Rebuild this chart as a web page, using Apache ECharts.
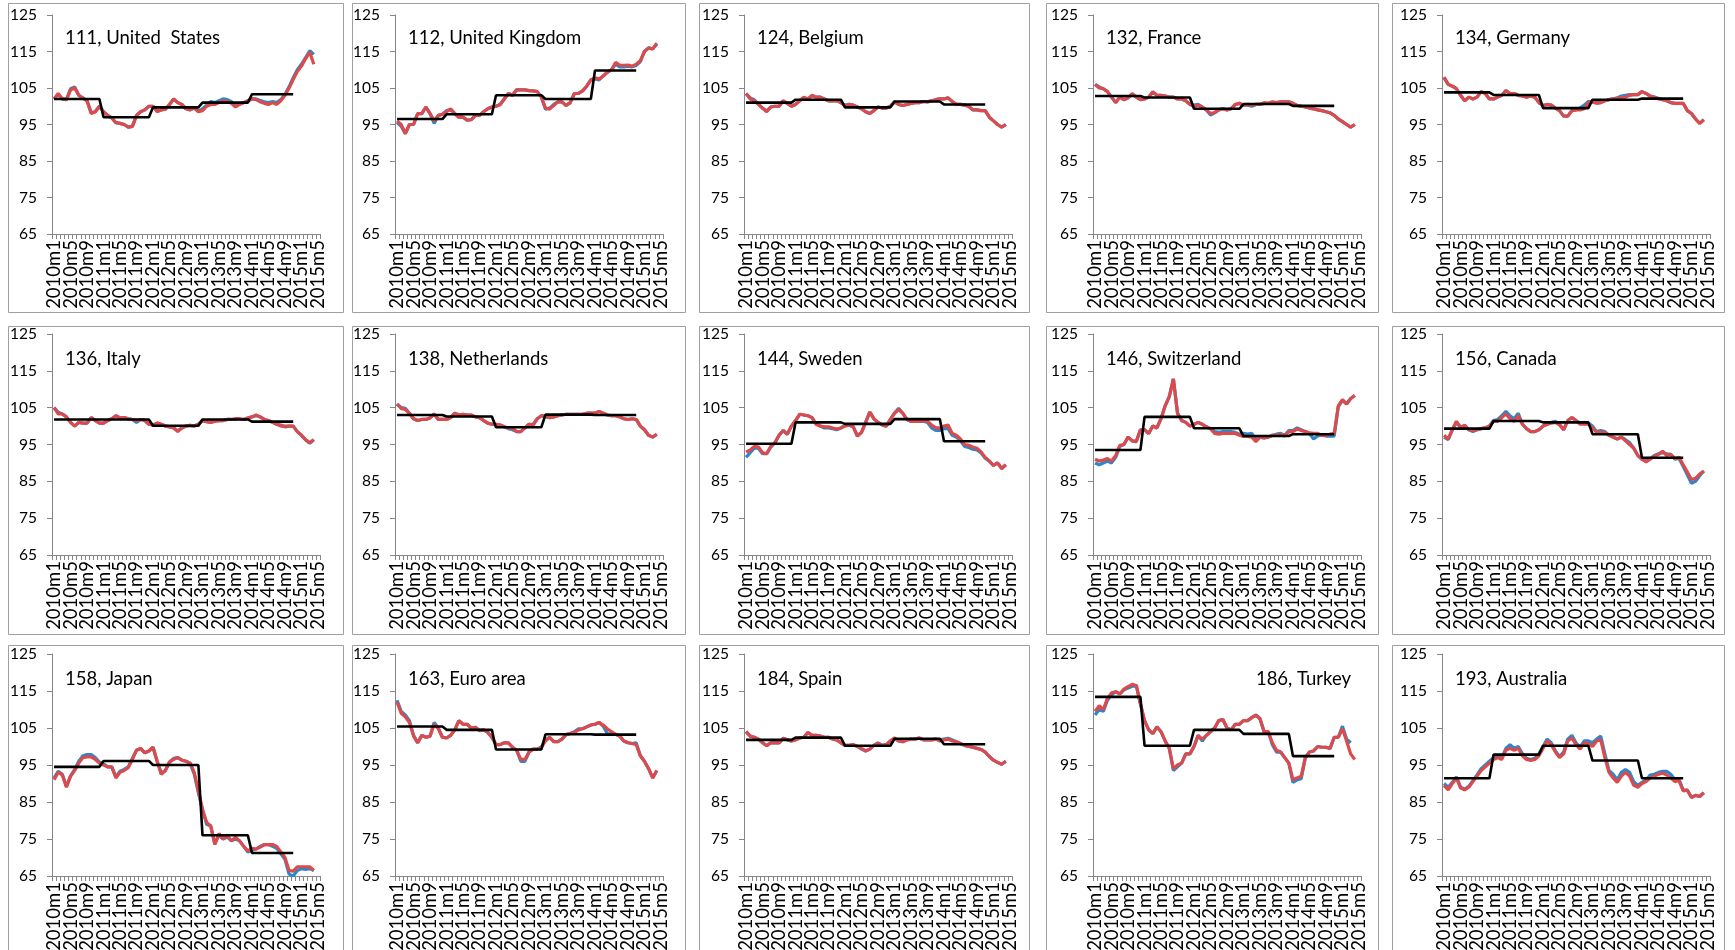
<!DOCTYPE html>
<html><head><meta charset="utf-8">
<script src="https://cdn.jsdelivr.net/npm/echarts/dist/echarts.min.js"></script>
<style>html,body{margin:0;padding:0;background:#fff}#c{width:1735px;height:950px}</style>
</head><body><div id="c"></div>
<script>
const months = ["2010m1","2010m2","2010m3","2010m4","2010m5","2010m6","2010m7","2010m8","2010m9","2010m10","2010m11","2010m12",
"2011m1","2011m2","2011m3","2011m4","2011m5","2011m6","2011m7","2011m8","2011m9","2011m10","2011m11","2011m12",
"2012m1","2012m2","2012m3","2012m4","2012m5","2012m6","2012m7","2012m8","2012m9","2012m10","2012m11","2012m12",
"2013m1","2013m2","2013m3","2013m4","2013m5","2013m6","2013m7","2013m8","2013m9","2013m10","2013m11","2013m12",
"2014m1","2014m2","2014m3","2014m4","2014m5","2014m6","2014m7","2014m8","2014m9","2014m10","2014m11","2014m12",
"2015m1","2015m2","2015m3","2015m4","2015m5"];
const labelEvery = 4;
const yTicks = [65,75,85,95,105,115,125];

const usRed = [102,103.5,102,101.8,104.5,105,103,102.2,101.5,98, 98.5,100,98.5,97.5,96.8,95.5,95.3,95,94.3,94.5, 97.5,98.5,99,100,100,98.5,99,99.2,100.5,102, 101,100.5,99.3,99,99.5,98.5,98.8,100,100.5,100.5, 101,101.5,101.3,100.8,99.8,100.5,101,101.5,102,101.8, 101.2,100.8,100.5,101,100.5,101.5,103,105,107.3,109.5, 111,113,114.8,111.5];
const usBlue = [102,103.3,102,101.8,104.8,105.3,103,102.3,101.5,98.3, 98.5,100,98.5,97.5,96.8,95.5,95.3,95,94.3,94.5, 97.5,98.5,99,100,100,98.7,99,99.2,100.5,102, 101,100.5,99.3,99,99.5,98.7,99.3,100.3,101.3,101, 101.5,102,101.8,101.3,100,100.7,101,101.5,102,102, 101.6,101.2,101,101.3,101,101.8,103.3,105.3,107.8,110, 111.5,113.3,115.2,114.2];
const usBlack = [102,102,102,102,102,102,102,102,102,102,102,102, 97,97,97,97,97,97,97,97,97,97,97,97, 99.7,99.7,99.7,99.7,99.7,99.7,99.7,99.7,99.7,99.7,99.7,99.7, 101,101,101,101,101,101,101,101,101,101,101,101, 103.3,103.3,103.3,103.3,103.3,103.3,103.3,103.3,103.3,103.3,103.3];

const ukRed = [96,95,92.5,95,95,98,98,99.8,98,96, 97.5,97.8,98.5,99.3,98,97,97,96.2,96.3,97.5, 97.5,98.5,99.3,99.8,100,100.5,102,103.5,103,104.5, 104.5,104.5,104.3,104.2,104,102.5,99.5,99.2,100.2,101.2, 101.2,100.2,101,103.5,103.5,104.2,105.5,107.2,107.8,107.5, 108.3,109.3,110,112,111.3,111.2,111.3,111,111.5,112.5, 115,116,115.7,117.3];
const ukBlue = [95.5,94.5,92.5,95,95,98,98,99.8,98,95.3, 97.5,97.8,98.8,99,98,97,97,96.2,96.3,97.5, 97.5,98.5,99.3,99.8,100,100.5,102,103.5,103,104.5, 104.5,104.5,104.3,104.2,104,102.5,99.2,99.5,100.5,101.2, 101.2,100.2,101,103.5,103.5,104.2,105.5,107.2,107.5,107.2, 108.3,109.3,110,111.5,110.8,110.8,111,110.8,111.2,112.2, 115,116,115.7,117];
const ukBlack = [96.5,96.5,96.5,96.5,96.5,96.5,96.5,96.5,96.5,96.5,96.5,96.5, 97.8,97.8,97.8,97.8,97.8,97.8,97.8,97.8,97.8,97.8,97.8,97.8, 103,103,103,103,103,103,103,103,103,103,103,103, 102,102,102,102,102,102,102,102,102,102,102,102, 109.8,109.8,109.8,109.8,109.8,109.8,109.8,109.8,109.8,109.8,109.8];

const beRed = [103.5,102,101.5,100.5,99.5,98.5,99.8,100,100,101.5, 100.8,100,100.5,101.5,102.5,102,103,102.5,102.5,102, 101.5,101.5,101.5,101,100,100.5,100.3,99.8,99.3,98.5, 98,98.8,99.8,99.5,99.5,100,101.2,100.5,100.2,100.5, 100.8,101,101,101.3,101.2,101.5,101.8,102,102,102.3, 101.3,100.5,100.5,100.3,100,99,99,98.8,98.8,97, 96,95,94.3,95];
const beBlue = [103.5,102.3,101.8,100.5,99.5,98.7,99.8,100,100,101.5, 100.8,100,100.5,101.5,102.3,102,102.8,102.5,102.5,102, 101.5,101.5,101.5,101,100.3,100.5,100.3,99.8,99.3,98.5, 98,98.8,99.8,99.5,99.5,100,101.2,100.5,100.2,100.5, 100.8,101,101,101.3,101.2,101.5,101.8,102,102,102.3, 101.3,100.5,100.5,100.3,100,99,99,98.8,98.8,97, 96,95,94.3,95];
const beBlack = [101,101,101,101,101,101,101,101,101,101,101,101, 101.8,101.8,101.8,101.8,101.8,101.8,101.8,101.8,101.8,101.8,101.8,101.8, 99.7,99.7,99.7,99.7,99.7,99.7,99.7,99.7,99.7,99.7,99.7,99.7, 101.3,101.3,101.3,101.3,101.3,101.3,101.3,101.3,101.3,101.3,101.3,101.3, 100.5,100.5,100.5,100.5,100.5,100.5,100.5,100.5,100.5,100.5,100.5];

const frRed = [106,105,104.8,104,102.5,101,102.5,101.8,102.3,103.5, 102.5,101.8,102,102.5,104,103,103,102.8,102.5,102.5, 102,102,101.5,100.5,100,100.3,99.8,99,98,98.3, 99,99.3,99,99.3,100.5,100.8,100.3,100.5,100.3,100.5, 100.5,101,100.8,101.2,101,101.2,101.2,101.2,100.8,100.2, 100,99.8,99.5,99.3,99,98.8,98.5,98.2,97.5,96.5, 95.8,95,94.3,95];
const frBlue = [106,105.3,104.8,104,102.5,101,102.5,101.8,102.3,103.3, 102.5,101.8,102,102.5,103.8,103,103,102.8,102.5,102.5, 102,102,101.5,100.5,100.3,100.5,99.8,99,97.6,98.2, 99,99.3,99,99.3,100.5,100.8,100.3,100.3,100,100.5, 100.5,100.8,100.8,101,101,101.2,101.2,101.2,100.8,100.2, 100,99.8,99.5,99.3,99,98.8,98.5,98.2,97.5,96.5, 95.8,95,94.3,95];
const frBlack = [102.8,102.8,102.8,102.8,102.8,102.8,102.8,102.8,102.8,102.8,102.8,102.8, 102.4,102.4,102.4,102.4,102.4,102.4,102.4,102.4,102.4,102.4,102.4,102.4, 99.3,99.3,99.3,99.3,99.3,99.3,99.3,99.3,99.3,99.3,99.3,99.3, 100.6,100.6,100.6,100.6,100.6,100.6,100.6,100.6,100.6,100.6,100.6,100.6, 100.1,100.1,100.1,100.1,100.1,100.1,100.1,100.1,100.1,100.1,100.1];

const deRed = [108,106,105.5,104.8,103,101.5,102.5,102,102.5,104, 103.5,102,102,102.5,103,104.3,103.5,103.5,103,102.8, 102.5,102.8,102.5,101,100.2,100.5,100.3,99.5,98.8,97.3, 97.3,98.8,99,99,99.3,101,101.2,100.8,101,101.5, 101.8,102,102.2,102.3,102.5,103,103.2,103.2,104,103.5, 102.8,102.5,102,101.8,101.5,101,100.8,100.8,100.8,98.8, 98,96.5,95.3,96.3];
const deBlue = [107.8,106,105.5,104.8,103,101.5,102.5,102,102.5,104, 103.5,102,102,102.5,103,104.3,103.5,103.5,103,102.8, 102.5,102.8,102.5,101,100.2,100.5,100.3,99.5,98.8,97.3, 97.3,98.8,99,99.5,100.3,101.3,101.2,101,101,101.5, 101.8,102,102.3,102.8,103,103.2,103.2,103.2,104,103.5, 102.8,102.5,102.2,101.8,101.5,101,100.8,100.8,100.8,98.8, 98,96.5,95.3,96.3];
const deBlack = [103.8,103.8,103.8,103.8,103.8,103.8,103.8,103.8,103.8,103.8,103.8,103.8, 103.1,103.1,103.1,103.1,103.1,103.1,103.1,103.1,103.1,103.1,103.1,103.1, 99.5,99.5,99.5,99.5,99.5,99.5,99.5,99.5,99.5,99.5,99.5,99.5, 101.8,101.8,101.8,101.8,101.8,101.8,101.8,101.8,101.8,101.8,101.8,101.8, 102.1,102.1,102.1,102.1,102.1,102.1,102.1,102.1,102.1,102.1,102.1];

const itRed = [105,103.3,103.3,102.5,101,100,101,100.8,100.8,102.3, 101.5,100.8,100.8,101.5,102,102.8,102.2,102.3,102,101.8, 101.5,101.8,101.5,100.5,100.3,100.8,100.5,100,99.8,99.5, 98.5,99.5,100,100.2,100,100.5,101.5,101.2,101,101.3, 101.5,101.5,101.8,101.8,102,102,101.8,102.2,102.5,103, 102.5,101.8,101.5,101,100.5,100,100,100,100,98.5, 97.5,96.3,95.5,96.3];
const itBlue = [105,103.8,103.3,102.5,101,100,101,100.8,100.8,102.3, 101.5,100.8,100.8,101.5,102,102.8,102.2,102.3,102,101.8, 101,101.8,101.5,100.5,100.3,100.8,100.5,100,99.8,99.5, 98.7,99.5,100,100.2,100,100.5,101.5,101.2,101,101.3, 101.5,101.5,101.8,101.8,102,102,101.8,102.2,102.5,102.8, 102.5,101.8,101.5,101,100.5,100.3,99.8,100,100,98.5, 97.5,96.3,95.3,96.3];
const itBlack = [101.8,101.8,101.8,101.8,101.8,101.8,101.8,101.8,101.8,101.8,101.8,101.8, 101.8,101.8,101.8,101.8,101.8,101.8,101.8,101.8,101.8,101.8,101.8,101.8, 100.1,100.1,100.1,100.1,100.1,100.1,100.1,100.1,100.1,100.1,100.1,100.1, 101.8,101.8,101.8,101.8,101.8,101.8,101.8,101.8,101.8,101.8,101.8,101.8, 101.2,101.2,101.2,101.2,101.2,101.2,101.2,101.2,101.2,101.2,101.2];

const nlRed = [106,104.8,104.5,103.5,102,101.5,101.8,101.8,102.2,103.3, 101.8,101.8,101.8,102.3,103.5,103,103.2,103,103,102.5, 102.3,101.5,100.8,100.5,100.5,100.3,99.8,99.5,99.5,98.5, 98.5,99.5,100.5,100.2,102,102.8,102.8,102.3,102.5,102.8, 103,103.2,103.2,103.2,103.2,103.2,103.5,103.5,103.5,104, 103.5,103,102.8,102.8,102.5,102,101.8,102,101.8,100, 99,97.5,97,97.8];
const nlBlue = [106,105,104.8,103.5,102,101.5,101.8,101.8,102.2,103.3, 101.8,101.8,101.8,102.3,103.5,103,103.2,103,103,102.5, 102.3,101.5,100.8,100.5,100.5,100.3,99.8,99.3,99,98.5, 98.5,99.5,100.5,100.5,102,102.8,102.5,102.3,102.5,102.8, 103,103.2,103.2,103.2,103.2,103.2,103.5,103.5,103.5,104, 103.5,103,102.8,102.8,102.5,102,101.8,102,101.8,100, 99,97.5,97,97.8];
const nlBlack = [103,103,103,103,103,103,103,103,103,103,103,103, 102.6,102.6,102.6,102.6,102.6,102.6,102.6,102.6,102.6,102.6,102.6,102.6, 99.7,99.7,99.7,99.7,99.7,99.7,99.7,99.7,99.7,99.7,99.7,99.7, 103.1,103.1,103.1,103.1,103.1,103.1,103.1,103.1,103.1,103.1,103.1,103.1, 103,103,103,103,103,103,103,103,103,103,103];

const seRed = [93,93.5,94.5,94.3,92.8,92.5,94.5,95.5,97.5,98.8, 97.8,100,101.5,103.2,103,102.8,102.3,100.5,100,99.8, 99.8,99.5,99.2,99.5,100,100.3,99.8,97.3,98.3,101, 103.8,102,101,100.3,100,101.8,103.5,104.5,103.5,101.8, 101.3,101.3,101.3,101.5,101.3,100.3,99.5,99.5,100,100.3, 98,97.5,96.5,95,94.8,94.3,94,93,91.5,90.5, 89.3,90,88.5,89.5];
const seBlue = [91.5,92.8,94,94,92.5,92.5,94.3,95.5,97.5,98.8, 97.8,100,101.5,103.2,103,102.8,102.3,100.5,100,99.5, 99.5,99.3,99,99.5,100.2,100.3,99.8,97.3,98.3,101, 103.8,102,101,100.3,100,101.8,103.5,104.8,103.5,101.8, 101.3,101.3,101.3,101.3,101,99.5,98.8,98.8,99.3,99.3, 97.5,97,96,94.5,94.2,93.7,93.5,92.7,91.3,90.5, 89.3,90,88.5,89.5];
const seBlack = [95.2,95.2,95.2,95.2,95.2,95.2,95.2,95.2,95.2,95.2,95.2,95.2, 101,101,101,101,101,101,101,101,101,101,101,101, 100.6,100.6,100.6,100.6,100.6,100.6,100.6,100.6,100.6,100.6,100.6,100.6, 101.9,101.9,101.9,101.9,101.9,101.9,101.9,101.9,101.9,101.9,101.9,101.9, 95.9,95.9,95.9,95.9,95.9,95.9,95.9,95.9,95.9,95.9,95.9];

const chRed = [91,90.5,90.8,91.2,90.5,92,94.8,95,97,96, 95.8,99,99,98,100,99.5,102,105.5,108,112.8, 103.5,101.5,101,100,100.5,101,100.5,99.8,99.3,98, 97.8,98,98,98,98,97.5,97.2,97.2,97,95.8, 97,96.8,97,97.5,97.5,97.8,97.3,98.5,98.5,99.2, 98.8,98.5,98.2,98,98,97.5,97.5,97.8,98,105.5, 107.2,106,107.5,108.3];
const chBlue = [90,89.5,90,90.5,90,91.5,94.5,95,97,96, 95.8,99,99,98,100,99.5,102,105.5,108,112.8, 103.5,101.5,101,100,100.5,101,100.5,99.8,99.3,98.5, 98.3,98.5,98.5,98.5,98.3,97.8,98,97.8,98,96.3, 97,96.8,97,97.5,97.8,98,97.5,98.8,98.8,99.5, 99,98.5,98,96.5,97.3,97.5,97.3,97.3,97.3,105.3, 107,106,107.5,108.3];
const chBlack = [93.5,93.5,93.5,93.5,93.5,93.5,93.5,93.5,93.5,93.5,93.5,93.5, 102.5,102.5,102.5,102.5,102.5,102.5,102.5,102.5,102.5,102.5,102.5,102.5, 99.4,99.4,99.4,99.4,99.4,99.4,99.4,99.4,99.4,99.4,99.4,99.4, 97.3,97.3,97.3,97.3,97.3,97.3,97.3,97.3,97.3,97.3,97.3,97.3, 97.8,97.8,97.8,97.8,97.8,97.8,97.8,97.8,97.8,97.8,97.8];

const caRed = [97.5,96.5,99,101.3,99.5,100.3,99,98.8,99,99.3, 99.5,100,101.3,101.3,102.3,103.3,102,101.3,102.8,100.5, 99.3,98.5,98.5,99,100,100.5,100.8,101,100.3,99, 101.5,102.3,101.5,100.5,100.5,100.5,99.5,98.3,98.3,98.3, 97.5,97,96.5,97,96,95,94,92,91,90.3, 91,91.8,92.3,93.2,92,92.3,91.2,91.5,89.5,87.5, 85.5,85.8,87,87.8];
const caBlue = [97,96.3,99,101,99.8,100,99,98.5,99,99.3, 99.5,100,101.5,101.8,102.8,104,102.8,102,103.5,100.5, 99.3,98.5,98.5,99,100,100.5,101,101.3,100.5,99, 101.5,102.3,101.5,100.8,101,100.8,100,98.5,98.8,98.5, 97.5,97,96.5,97,96.3,95.5,94,92,91,90.5, 91.2,92,92.5,92.8,92.5,92.3,91,91.2,89,86.8, 84.5,85,86.5,87.8];
const caBlack = [99.3,99.3,99.3,99.3,99.3,99.3,99.3,99.3,99.3,99.3,99.3,99.3, 101.4,101.4,101.4,101.4,101.4,101.4,101.4,101.4,101.4,101.4,101.4,101.4, 101,101,101,101,101,101,101,101,101,101,101,101, 97.8,97.8,97.8,97.8,97.8,97.8,97.8,97.8,97.8,97.8,97.8,97.8, 91.4,91.4,91.4,91.4,91.4,91.4,91.4,91.4,91.4,91.4,91.4];

const jpRed = [91,93,92.3,89,92,93.5,95.5,97,97.2,97.2, 96.5,95.5,95,94.5,94.5,91.5,93,93.5,94.3,96.5, 99,99.5,98.3,98.8,99.8,96,92.5,93.5,95.8,96.5, 97,96.3,96,95.5,93,88,83,79.5,78.5,73.5, 76.5,75,76,74.5,75.5,74.5,73,71.8,72.5,72.3, 72.8,73.5,73.5,73.5,73,71.5,70,66.5,66.3,67.5, 67.5,67.5,67.5,66.5];
const jpBlue = [91.5,93.3,92.5,89.2,92,93.8,96,97.5,97.8,97.8, 97,95.8,95.3,94.5,94.5,91.8,93.3,93.8,94.5,96.8, 99,99.5,98.3,98.8,99.8,96,92.8,93.5,95.8,96.8, 97,96.3,96,95.5,92.5,87.5,83,79,78.5,73.8, 76,75,75.5,74.5,75,74.5,73,71.5,72,72.3, 73,73.5,73.5,73,72.5,71,69.5,65.5,65,66.5, 67,66.8,67,66.5];
const jpBlack = [94.5,94.5,94.5,94.5,94.5,94.5,94.5,94.5,94.5,94.5,94.5,94.5, 96.1,96.1,96.1,96.1,96.1,96.1,96.1,96.1,96.1,96.1,96.1,96.1, 95,95,95,95,95,95,95,95,95,95,95,95, 76,76,76,76,76,76,76,76,76,76,76,76, 71.2,71.2,71.2,71.2,71.2,71.2,71.2,71.2,71.2,71.2,71.2];

const euRed = [112,109,108,106.5,102.8,101,103,102.5,102.8,106, 104.8,102.5,102.3,103,104.5,107,106,106,105,105.2, 104.3,104.5,103.8,102.5,100.5,100.5,101,101,99.8,99, 96.5,96.5,98.5,99.3,99.3,99.8,101.5,102.5,101.3,101.3, 102,103.2,103.5,103.8,104.5,104.8,105.3,105.8,106,106.5, 105.8,104.8,104,103.3,102.8,101.5,101,100.8,100.5,97.5, 96,94,91.5,93.5];
const euBlue = [112.5,109.5,108.5,107,103,101,103,102.5,102.8,106.5, 105,102.5,102.3,103,104.5,107,106,106,105,105.2, 104.3,104.5,103.8,102.5,100.5,100.5,101,101,99.8,99, 96,96,98.5,99.3,99.3,99.8,101.8,102.5,101.3,101.3, 102,103.2,103.5,104,104.8,104.8,105.3,105.8,106,106.5, 105.5,103.5,103.3,103.3,102.8,101.5,101,100.8,101,97.5, 96,94,91.5,93.5];
const euBlack = [105.4,105.4,105.4,105.4,105.4,105.4,105.4,105.4,105.4,105.4,105.4,105.4, 104.5,104.5,104.5,104.5,104.5,104.5,104.5,104.5,104.5,104.5,104.5,104.5, 99.2,99.2,99.2,99.2,99.2,99.2,99.2,99.2,99.2,99.2,99.2,99.2, 103.3,103.3,103.3,103.3,103.3,103.3,103.3,103.3,103.3,103.3,103.3,103.3, 103.2,103.2,103.2,103.2,103.2,103.2,103.2,103.2,103.2,103.2,103.2];

const esRed = [104,102.8,102.5,102,101,100.2,101,101,101,102.2, 101.8,101.5,101.8,102.3,102.5,103.8,103,103,102.8,102.5, 102.5,102,101.8,101,100.3,100.3,100.5,100,99.5,98.8, 99.3,100.3,100.8,100.3,100.5,101.5,102.3,101.5,101.3,101.8, 102,102,102.3,101.8,101.8,101.8,102,101.5,101.8,102, 101.5,101.3,100.8,100.3,100,99.8,99.5,99.2,98.5,97.3, 96.3,95.7,95.2,96];
const esBlue = [104,102.8,102.5,102,101,100.2,101,101,101,102.2, 101.8,101.5,101.8,102.3,102.5,103.8,103,103,102.8,102.5, 102.5,102,101.8,101,100.3,100.3,100.5,100,99.3,98.8, 99.3,100.3,101,100.3,100.5,101.5,102.3,101.5,101.3,101.8, 102,102,102.3,101.8,101.8,101.8,102,101.8,102,102.2, 101.8,101.3,100.8,100.3,100,99.8,99.5,99.2,98.5,97.3, 96.3,95.7,95.2,96];
const esBlack = [101.8,101.8,101.8,101.8,101.8,101.8,101.8,101.8,101.8,101.8,101.8,101.8, 102.4,102.4,102.4,102.4,102.4,102.4,102.4,102.4,102.4,102.4,102.4,102.4, 100.2,100.2,100.2,100.2,100.2,100.2,100.2,100.2,100.2,100.2,100.2,100.2, 102.1,102.1,102.1,102.1,102.1,102.1,102.1,102.1,102.1,102.1,102.1,102.1, 100.6,100.6,100.6,100.6,100.6,100.6,100.6,100.6,100.6,100.6,100.6];

const trRed = [109.5,111,110,113,114.5,114.8,114.2,115.5,116.2,116.8, 116.5,111.5,107,104.5,103.5,105.3,104,101.5,99.5,94, 95,95.5,98,98,100,103,102,103,104,105, 107,107.3,105,104.5,106,106,107,107,107.8,108.5, 107.5,104,104,101,99,98.5,97,95.5,91,91.5, 92,97,98.5,98.8,100,99.8,99.8,99.5,102.5,102.5, 104.8,101.5,98,96.5];
const trBlue = [108.5,110,109.5,112.5,114,114.8,114.2,115.3,115.8,116.3, 116.5,111.5,107,104.5,103.5,105.3,104,101.5,99.5,93.5, 94.5,95.5,98,98,100,103,101.5,103,104,105, 107,107.3,105,104.5,106,106,107,107,107.8,108.5, 107.5,104,104,100.5,98.5,98.5,97,95.5,90.3,91, 91.3,97,98.5,98.8,100,99.8,99.8,99.5,102.5,102.5, 105.5,102,101];
const trBlack = [113.4,113.4,113.4,113.4,113.4,113.4,113.4,113.4,113.4,113.4,113.4,113.4, 100.2,100.2,100.2,100.2,100.2,100.2,100.2,100.2,100.2,100.2,100.2,100.2, 104.5,104.5,104.5,104.5,104.5,104.5,104.5,104.5,104.5,104.5,104.5,104.5, 103.4,103.4,103.4,103.4,103.4,103.4,103.4,103.4,103.4,103.4,103.4,103.4, 97.4,97.4,97.4,97.4,97.4,97.4,97.4,97.4,97.4,97.4,97.4];

const auRed = [89.5,88.3,90,91.5,88.8,88.3,89,90.5,92,93.5, 94.5,95.5,96.5,97,96.5,99,99.5,99,99.5,97.5, 96.5,96.2,96.5,97.5,99.5,101.5,100.5,98.5,97,98, 101.5,102.3,100.5,99.3,101,100.8,100,101.5,101.8,97, 93,91.5,90.3,92,93,92,89.5,89,90,90.5, 91.5,92,92.5,92.8,92.3,91.5,90.5,90.8,88,88.2, 86.2,86.8,86.5,87.5];
const auBlue = [90,89,90.3,91.8,89,88.5,89.2,90.8,92.3,94, 95,96,97,97.3,97,99.5,100.5,99.5,100,98, 96.8,96.5,96.8,98,100,102,101,98.8,97.3,98.5, 102,103,101,99.8,101.5,101.5,101,102,102.8,98, 93.5,92.5,91,93,93.8,93,90.5,89.5,90.3,91, 92.3,92.5,93,93.3,93.3,92.5,91,91,88.3,88.2, 86.3,86.8,86.5,87.5];
const auBlack = [91.4,91.4,91.4,91.4,91.4,91.4,91.4,91.4,91.4,91.4,91.4,91.4, 97.8,97.8,97.8,97.8,97.8,97.8,97.8,97.8,97.8,97.8,97.8,97.8, 100.2,100.2,100.2,100.2,100.2,100.2,100.2,100.2,100.2,100.2,100.2,100.2, 96.2,96.2,96.2,96.2,96.2,96.2,96.2,96.2,96.2,96.2,96.2,96.2, 91.4,91.4,91.4,91.4,91.4,91.4,91.4,91.4,91.4,91.4,91.4];

const titles = ["111, United  States","112, United Kingdom","124, Belgium","132, France","134, Germany",
  "136, Italy","138, Netherlands","144, Sweden","146, Switzerland","156, Canada",
  "158, Japan","163, Euro area","184, Spain","186, Turkey","193, Australia"];
const redSeries = [usRed,ukRed,beRed,frRed,deRed,itRed,nlRed,seRed,chRed,caRed,jpRed,euRed,esRed,trRed,auRed];
const blueSeries = [usBlue,ukBlue,beBlue,frBlue,deBlue,itBlue,nlBlue,seBlue,chBlue,caBlue,jpBlue,euBlue,esBlue,trBlue,auBlue];
const blackSeries = [usBlack,ukBlack,beBlack,frBlack,deBlack,itBlack,nlBlack,seBlack,chBlack,caBlack,jpBlack,euBlack,esBlack,trBlack,auBlack];

// layout
const axisX = [52, 395, 744, 1093, 1442];
const plotW = 268;
const rowTop = [15, 334, 654];
const rowH = [219, 221, 222];
const boxL = [8, 352, 699, 1046, 1392];
const boxR = [343, 685, 1029, 1378, 1724];
const boxT = [3, 326, 645];
const boxB = [312, 634, 960];
const BLUE = '#2f86c9', RED = '#dc4a4c', AXIS = '#868686', FONT = 'Lato';

const grids = [], xAxes = [], yAxes = [], series = [], graphics = [];
for (let k = 0; k < 15; k++) {
  const r = Math.floor(k / 5), c = k % 5;
  grids.push({left: axisX[c], top: rowTop[r], width: plotW, height: rowH[r], containLabel: false, outerBoundsMode: 'none'});
  xAxes.push({gridIndex: k, type: 'category', data: months, boundaryGap: true,
    axisLine: {show: true, onZero: false, lineStyle: {color: AXIS, width: 1}},
    axisTick: {show: true, interval: 0, length: 5, inside: false, lineStyle: {color: AXIS}},
    axisLabel: {interval: 0, rotate: 90, margin: 6, fontFamily: FONT, fontSize: 18.5, color: '#000', hideOverlap: false,
      formatter: function (value, index) { return index % labelEvery === 0 ? value : ''; }},
    splitLine: {show: false}});
  yAxes.push({gridIndex: k, type: 'value', min: yTicks[0], max: yTicks[yTicks.length - 1], interval: yTicks[1] - yTicks[0],
    axisLine: {show: true, lineStyle: {color: AXIS, width: 1}},
    axisTick: {show: true, length: 5, inside: false, lineStyle: {color: AXIS}},
    axisLabel: {margin: 15, fontFamily: FONT, fontSize: 15.5, color: '#000', showMinLabel: true, showMaxLabel: true},
    splitLine: {show: false}});
  const common = {type: 'line', xAxisIndex: k, yAxisIndex: k, showSymbol: false, symbol: 'none', silent: true, animation: false};
  series.push(Object.assign({}, common, {data: blueSeries[k], z: 2, lineStyle: {color: BLUE, width: 3.2}, itemStyle: {color: BLUE}}));
  series.push(Object.assign({}, common, {data: redSeries[k], z: 3, lineStyle: {color: RED, width: 3.2}, itemStyle: {color: RED}}));
  series.push(Object.assign({}, common, {data: blackSeries[k], z: 4, lineStyle: {color: '#000', width: 2.6}, itemStyle: {color: '#000'}}));
  graphics.push({type: 'rect', silent: true, z: -1,
    shape: {x: boxL[c] + 0.5, y: boxT[r] + 0.5, width: boxR[c] - boxL[c], height: boxB[r] - boxT[r]},
    style: {fill: 'none', stroke: '#a0a0a0', lineWidth: 1}});
  const right = (k === 13);
  graphics.push({type: 'text', silent: true, z: 10,
    x: right ? axisX[c] + plotW - 10 : axisX[c] + 13,
    y: rowTop[r] + (r === 0 ? 23 : 25),
    style: {text: titles[k], fontFamily: FONT, fontSize: 18.5, fill: '#000', align: right ? 'right' : 'left', verticalAlign: 'middle'}});
}

const chart = echarts.init(document.getElementById('c'), null, {renderer: 'canvas'});
chart.setOption({animation: false, backgroundColor: '#fff', grid: grids, xAxis: xAxes, yAxis: yAxes, series: series, graphic: graphics});
</script></body></html>
